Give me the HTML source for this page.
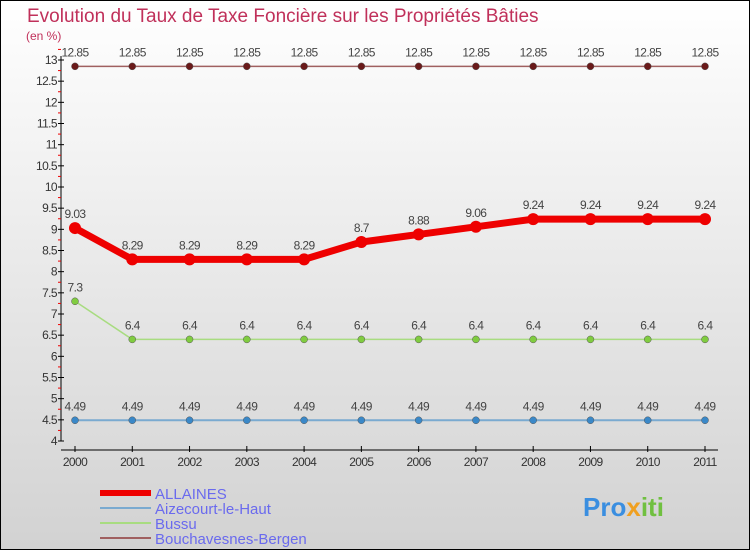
<!DOCTYPE html>
<html><head><meta charset="utf-8"><style>
body{margin:0;width:750px;height:550px;overflow:hidden;font-family:"Liberation Sans",sans-serif}
svg{display:block}
</style></head><body>
<svg width="750" height="550" xmlns="http://www.w3.org/2000/svg">
<defs><linearGradient id="bg" x1="0" y1="0" x2="0" y2="1"><stop offset="0" stop-color="#ffffff"/><stop offset="1" stop-color="#d2d2d2"/></linearGradient></defs>
<rect x="0.5" y="0.5" width="749" height="549" fill="url(#bg)" stroke="#000"/>
<text x="27" y="22" font-size="19" fill="#c0305a">Evolution du Taux de Taxe Foncière sur les Propriétés Bâties</text>
<text x="26" y="40" font-size="12" fill="#c0305a">(en %)</text>
<g id="axes"></g><g id="series"></g><g id="legend"></g>
<text x="583" y="516" font-size="26" font-weight="bold" fill="#3a8ee0">Pro<tspan fill="#f0a020">x</tspan><tspan fill="#70c040">iti</tspan></text>
</svg>
<script>
const years=[2000,2001,2002,2003,2004,2005,2006,2007,2008,2009,2010,2011];
const yTicks=[4,4.5,5,5.5,6,6.5,7,7.5,8,8.5,9,9.5,10,10.5,11,11.5,12,12.5,13];
const allaines=[9.03,8.29,8.29,8.29,8.29,8.7,8.88,9.06,9.24,9.24,9.24,9.24];
const aizecourt=[4.49,4.49,4.49,4.49,4.49,4.49,4.49,4.49,4.49,4.49,4.49,4.49];
const bussu=[7.3,6.4,6.4,6.4,6.4,6.4,6.4,6.4,6.4,6.4,6.4,6.4];
const bouchavesnes=[12.85,12.85,12.85,12.85,12.85,12.85,12.85,12.85,12.85,12.85,12.85,12.85];
const seriesNames=["ALLAINES","Aizecourt-le-Haut","Bussu","Bouchavesnes-Bergen"];
const NS="http://www.w3.org/2000/svg";
const X=i=>75+i*(630/(years.length-1));
const Y=v=>441-(v-4)*(381/9);
function mk(tag,attrs,parent,txt){const e=document.createElementNS(NS,tag);for(const k in attrs)e.setAttribute(k,attrs[k]);if(txt!==undefined)e.textContent=txt;parent.appendChild(e);return e;}
const ax=document.getElementById('axes');
let e=mk('line',{x1:61,y1:56,x2:61,y2:441,stroke:'#000','stroke-width':1},ax);

yTicks.forEach(t=>{const y=Y(t);mk('line',{x1:58,y1:y,x2:64,y2:y,stroke:'#000'},ax);
 mk('line',{x1:58,y1:Y(t+0.25),x2:61,y2:Y(t+0.25),stroke:'#e00'},ax);
 const l=mk('text',{x:57,y:y+4,'font-size':12,'text-anchor':'end',fill:'#333','letter-spacing':'-0.6'},ax,String(t));
 });
e=mk('line',{x1:61,y1:450,x2:718,y2:450,stroke:'#000'},ax);

years.forEach((yr,i)=>{mk('line',{x1:X(i),y1:446,x2:X(i),y2:452,stroke:'#000'},ax);
 const l=mk('text',{x:X(i),y:466,'font-size':12,'text-anchor':'middle',fill:'#333','letter-spacing':'-0.6'},ax,String(yr));
 });
const sg=document.getElementById('series');
const defs=[[allaines,'#ee0000','#ee0000',7,6,'allaines'],[aizecourt,'#7aaad0','#3a88c8',2,3.5,'aizecourt'],[bussu,'#a8dc80','#80cc40',1.5,3.5,'bussu'],[bouchavesnes,'#a06060','#6a1a1a',1.5,3.5,'bouchavesnes']];
defs.forEach(([vals,lc,pc,w,r,nm])=>{const g=mk('g',{},sg);
 
 const p=mk('polyline',{points:vals.map((v,i)=>X(i)+','+Y(v)).join(' '),fill:'none',stroke:lc,'stroke-width':w},g);
 
 vals.forEach((v,i)=>{const c=mk('circle',{cx:X(i),cy:Y(v),r:r,fill:pc,stroke:nm=='allaines'?'none':'#555','stroke-width':0.5},g);
  
  const t=mk('text',{x:X(i),y:Y(v)-10,'font-size':12,'text-anchor':'middle',fill:'#444','letter-spacing':'-0.6'},g,String(v));
  });});
const lg=document.getElementById('legend');
const lstyle=[['#ee0000',6],['#7aaad0',2],['#a8dc80',2],['#a06060',2]];
seriesNames.forEach((n,i)=>{const y=493+i*15;const g=mk('g',{},lg);
 
 mk('line',{x1:100,y1:y,x2:151,y2:y,stroke:lstyle[i][0],'stroke-width':lstyle[i][1]},g);
 mk('text',{x:155,y:y+6,'font-size':15,fill:'#6a6aee'},g,n);});
</script>
</body></html>
